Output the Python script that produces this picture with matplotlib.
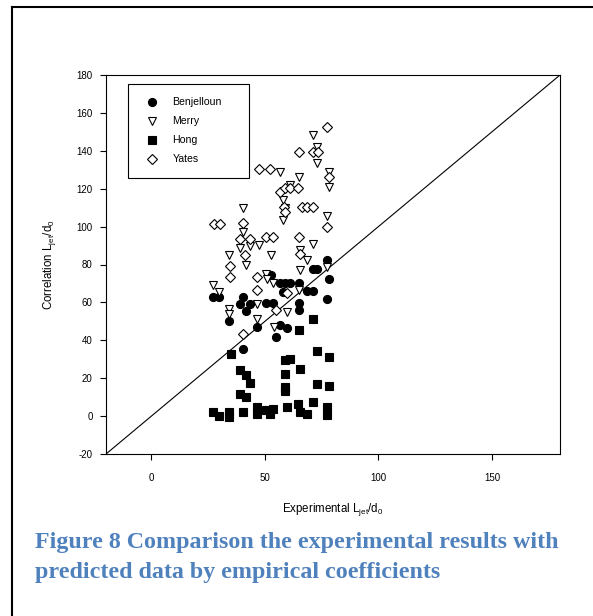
import matplotlib
matplotlib.use("Agg")
import matplotlib.pyplot as plt
from matplotlib.lines import Line2D

# Benjelloun (filled circles)
benj_x = [27.2, 29.7, 34.3, 39.0, 40.4, 41.5, 43.4, 40.4, 46.3, 50.3, 53.7, 52.5, 54.7,
          56.6, 59.6, 56.6, 58.8, 61.0, 58.1, 65.1, 65.1, 65.1, 68.4, 71.3, 71.3, 73.1,
          77.5, 78.1, 77.5]
benj_y = [62.6, 62.6, 50.2, 58.9, 62.9, 55.5, 59.4, 35.6, 47.0, 59.9, 59.9, 74.7, 41.8,
          48.0, 46.5, 70.0, 70.0, 70.0, 65.5, 70.0, 59.9, 55.9, 65.9, 65.9, 77.5, 77.5,
          82.3, 72.6, 61.7]

# Merry (open down triangles)
merry_x = [27.2, 29.7, 34.3, 34.3, 34.3, 39.0, 40.4, 40.4, 41.5, 43.4, 46.3, 46.3, 47.4,
           50.3, 50.8, 52.5, 53.7, 54.0, 56.6, 58.1, 58.1, 58.8, 59.6, 61.0, 65.1, 65.4,
           65.4, 65.1, 68.4, 71.3, 71.3, 73.1, 73.1, 78.1, 78.1, 77.5, 77.5]
merry_y = [69.0, 65.5, 85.0, 56.7, 54.1, 88.5, 97.3, 110.0, 79.6, 90.0, 51.5, 59.4, 90.2,
           75.2, 72.6, 85.0, 70.0, 47.0, 129.0, 114.0, 103.4, 110.0, 55.0, 122.0, 126.3, 87.6,
           77.0, 66.4, 82.3, 148.4, 90.7, 142.2, 133.4, 129.0, 121.0, 105.7, 78.8]

# Hong (filled squares)
hong_x = [27.2, 29.7, 34.3, 34.3, 35.0, 39.0, 41.5, 43.4, 39.0, 41.5, 40.4, 46.3, 46.3,
          50.3, 52.3, 53.7, 59.6, 58.8, 61.0, 58.8, 58.8, 58.8, 65.1, 65.4, 64.7, 65.4,
          68.4, 71.3, 73.1, 73.1, 71.3, 78.1, 78.1, 77.5, 77.5]
hong_y = [2.1, 0.2, 2.1, -0.5, 33.0, 24.1, 21.5, 17.4, 11.8, 10.0, 2.1, 4.6, 1.2,
          3.0, 1.2, 3.9, 4.8, 29.4, 30.3, 22.4, 15.2, 13.4, 45.3, 25.0, 6.5, 2.1,
          0.9, 51.5, 34.2, 17.1, 7.4, 31.2, 15.7, 4.8, 0.4]

# Yates (open diamonds)
yates_x = [27.7, 30.1, 34.6, 34.6, 39.0, 40.4, 41.1, 43.4, 40.4, 46.3, 46.3, 47.4, 52.2,
           50.7, 53.7, 54.7, 56.6, 58.8, 61.0, 58.5, 58.8, 59.6, 65.1, 64.7, 66.2, 68.4,
           71.3, 65.1, 65.4, 71.3, 73.5, 77.5, 78.1, 77.5]
yates_y = [101.2, 101.2, 73.5, 79.2, 93.7, 101.7, 85.0, 93.7, 43.5, 73.5, 66.4, 130.4, 130.4,
           94.6, 94.6, 55.9, 118.4, 120.2, 120.2, 110.5, 107.8, 65.0, 139.6, 120.2, 110.5, 110.5,
           110.5, 94.3, 85.8, 139.6, 139.6, 152.4, 126.3, 100.0]

x_ticks = [0, 50, 100, 150]
y_ticks = [-20, 0, 20, 40, 60, 80, 100, 120, 140, 160, 180]
lims = [-20, 180]

plt.rcParams['font.family'] = ['Liberation Sans', 'DejaVu Sans']
plt.rcParams['mathtext.fontset'] = 'custom'
plt.rcParams['mathtext.rm'] = 'Liberation Sans'
plt.rcParams['axes.unicode_minus'] = False

fig = plt.figure(figsize=(5.93, 6.16), dpi=100)
ax = fig.add_axes([106 / 593, 1 - 454 / 616, 454 / 593, 379 / 616])

ax.plot(lims, lims, color='black', lw=0.8)
ax.plot(benj_x, benj_y, 'o', ms=5.8, mfc='black', mec='black', mew=0.8,
        ls='none', label='Benjelloun')
ax.plot(merry_x, merry_y, 'v', ms=6.3, mfc='white', mec='black', mew=0.8,
        ls='none', label='Merry')
ax.plot(hong_x, hong_y, 's', ms=5.2, mfc='black', mec='black', mew=0.8,
        ls='none', label='Hong')
ax.plot(yates_x, yates_y, 'D', ms=4.8, mfc='white', mec='black', mew=0.8,
        ls='none', label='Yates')

ax.set_xlim(lims)
ax.set_ylim(lims)
ax.set_xticks(x_ticks)
ax.set_yticks(y_ticks)
ax.tick_params(axis='both', direction='out', length=4.5, width=0.8, labelsize=7)
ax.tick_params(axis='x', pad=9)
ax.tick_params(axis='y', pad=5)
for s in ax.spines.values():
    s.set_linewidth(0.8)

ax.set_xlabel(r'Experimental L$_{\mathrm{jet}}$/d$_{\mathrm{0}}$', fontsize=8.3)
ax.set_ylabel(r'Correlation L$_{\mathrm{jet}}$/d$_{\mathrm{0}}$', fontsize=8.3)
ax.xaxis.set_label_coords(0.5, -0.125)
ax.yaxis.set_label_coords(-0.105, 0.5)

leg = ax.legend(loc='upper left', bbox_to_anchor=(0.0485, 0.5, 0.2665, 0.477),
                mode='expand', borderaxespad=0,
                fontsize=7.6, numpoints=1, fancybox=False, framealpha=1,
                edgecolor='black', borderpad=1.3, labelspacing=0.85,
                handlelength=1.9, handletextpad=1.0)
leg.get_frame().set_linewidth(0.8)

# page border (top and left)
fig.add_artist(Line2D([12 / 593, 1], [1 - 7 / 616, 1 - 7 / 616], color='black', lw=1.5,
                      transform=fig.transFigure))
fig.add_artist(Line2D([12 / 593, 12 / 593], [0, 1 - 7 / 616], color='black', lw=1.5,
                      transform=fig.transFigure))

cap_color = '#4F81BD'
fig.text(35 / 593, 1 - 548 / 616, 'Figure 8 Comparison the experimental results with',
         family='Liberation Serif', weight='bold', fontsize=17.3, color=cap_color,
         va='baseline', ha='left')
fig.text(35 / 593, 1 - 578 / 616, 'predicted data by empirical coefficients',
         family='Liberation Serif', weight='bold', fontsize=17.3, color=cap_color,
         va='baseline', ha='left')

fig.savefig('out.png', dpi=100)
